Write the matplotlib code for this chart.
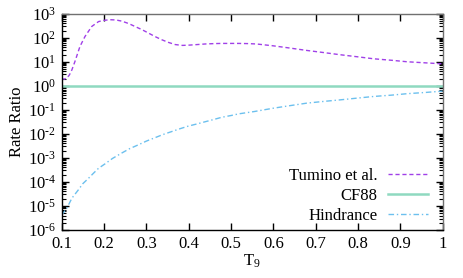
import numpy as np
import matplotlib
matplotlib.use('Agg')
import matplotlib.pyplot as plt
from matplotlib.ticker import LogLocator, NullFormatter, FixedLocator

plt.rcParams['font.family'] = 'Liberation Serif'
plt.rcParams['mathtext.fontset'] = 'custom'
plt.rcParams['mathtext.rm'] = 'Liberation Serif'
plt.rcParams['mathtext.it'] = 'Liberation Serif:italic'

# Tumino et al. rate ratio
t_tumino = [0.100, 0.106, 0.112, 0.118, 0.124, 0.131, 0.143, 0.155, 0.171, 0.187,
            0.200, 0.214, 0.228, 0.242, 0.258, 0.273, 0.290, 0.305, 0.320, 0.336,
            0.352, 0.368, 0.385, 0.399, 0.420, 0.439, 0.460, 0.478, 0.500, 0.518,
            0.540, 0.560, 0.600, 0.640, 0.679, 0.720, 0.758, 0.800, 0.837, 0.880,
            0.916, 0.960, 1.000]
r_tumino = [1.95, 1.9, 2.1, 2.8, 4.6, 10, 43, 113, 295, 470,
            530, 562, 550, 490, 390, 295, 215, 156, 113, 83,
            64, 52, 48, 49, 52, 55, 57, 58, 58, 58,
            57, 55, 46, 37, 29.6, 24, 19.6, 16, 13.3, 11.5,
            10, 9, 8.2]

# CF88 reference (ratio = 1)
t_cf88 = [0.1, 1.0]
r_cf88 = [1.0, 1.0]

# Hindrance model
t_hind = [0.100, 0.112, 0.124, 0.139, 0.150, 0.163, 0.175, 0.187, 0.202, 0.220,
          0.242, 0.260, 0.281, 0.300, 0.321, 0.340, 0.360, 0.380, 0.399, 0.420,
          0.439, 0.460, 0.478, 0.500, 0.518, 0.555, 0.600, 0.640, 0.679, 0.720,
          0.758, 0.800, 0.837, 0.880, 0.916, 0.960, 1.000]
r_hind = [4.2e-6, 8e-6, 2.1e-5, 4.6e-5, 8.5e-5, 1.4e-4, 2.3e-4, 3.7e-4, 5.6e-4, 9.5e-4,
          1.6e-3, 2.4e-3, 3.5e-3, 5.0e-3, 7.0e-3, 9.5e-3, 0.0125, 0.0165, 0.021, 0.026,
          0.032, 0.040, 0.049, 0.058, 0.068, 0.085, 0.117, 0.15, 0.19, 0.225,
          0.26, 0.31, 0.36, 0.41, 0.47, 0.53, 0.60]

x_ticks = [0.1, 0.2, 0.3, 0.4, 0.5, 0.6, 0.7, 0.8, 0.9, 1.0]
x_labels = ['0.1', '0.2', '0.3', '0.4', '0.5', '0.6', '0.7', '0.8', '0.9', '1']
y_ticks = [10.0 ** k for k in range(-6, 4)]
y_labels = [r'$\mathregular{10^{%d}}$' % k for k in range(-6, 4)]
y_labels = [s.replace('{-', '{\u2010') for s in y_labels]

fig = plt.figure(figsize=(4.63, 2.78), dpi=100)
ax = fig.add_axes([0.1333, 0.1727, 0.8229, 0.7780])

ax.plot(t_tumino, r_tumino, color='#a040e8', lw=1.0, dashes=(3, 2), label='Tumino et al.')
ax.plot(t_cf88, r_cf88, color='#8fd9c0', lw=1.8, label='CF88')
ax.plot(t_hind, r_hind, color='#6cc0ee', lw=1.0, dashes=(4, 2, 1, 2), label='Hindrance')

ax.set_yscale('log')
ax.set_xlim(0.1, 1.0)
ax.set_ylim(1e-6, 1e3)

ax.xaxis.set_major_locator(FixedLocator(x_ticks))
ax.set_xticklabels(x_labels)
ax.yaxis.set_major_locator(FixedLocator(y_ticks))
ax.set_yticklabels(y_labels)
ax.yaxis.set_minor_locator(LogLocator(base=10, subs=np.arange(2, 10), numticks=20))
ax.yaxis.set_minor_formatter(NullFormatter())

ax.tick_params(which='both', direction='in', top=True, right=True, labelsize=12, pad=4)
ax.tick_params(which='major', length=5, width=1)
ax.tick_params(which='minor', length=3, width=0.8)

for side in ['left', 'bottom']:
    ax.spines[side].set_color('black')
for side in ['top', 'right']:
    ax.spines[side].set_color('#707070')
for s in ax.spines.values():
    s.set_linewidth(1.0)

ax.set_xlabel(r'T$_9$', fontsize=12, labelpad=1)
ax.set_ylabel('Rate Ratio', fontsize=12, labelpad=2)

ax.legend(loc='lower right', frameon=False, markerfirst=False, fontsize=12,
          handlelength=2.4, handletextpad=0.6, labelspacing=0.22,
          bbox_to_anchor=(0.961, 0.03), borderaxespad=0, borderpad=0)

fig.savefig('out.png', dpi=100)
